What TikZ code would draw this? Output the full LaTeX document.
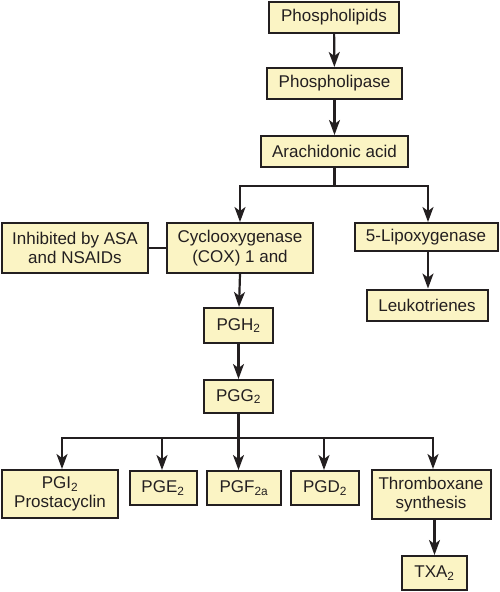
\documentclass[tikz,border=0pt]{standalone}
\usepackage{fontspec}
\setmainfont{Liberation Sans}
\usetikzlibrary{arrows.meta}
\definecolor{boxfill}{HTML}{FBF4C4}
\definecolor{ink}{HTML}{231F20}
\begin{document}
\begin{tikzpicture}[x=1pt,y=-1pt,
  box/.style={draw=ink,line width=2pt,fill=boxfill,inner sep=0pt,
    font=\fontsize{17}{19.5}\selectfont,align=center,text=ink},
  arr/.style={draw=ink,line width=2.2pt,-{Stealth[length=15pt,width=11pt,inset=4pt]}},
  ln/.style={draw=ink,line width=2.2pt}]
\useasboundingbox (0,0) rectangle (500,592);
\node[box,minimum width=130,minimum height=31] (phl) at (334,17.5) {Phospholipids};
\node[box,minimum width=135,minimum height=31] (pla) at (334.5,83.5) {Phospholipase};
\node[box,minimum width=147,minimum height=31] (ara) at (334.5,151.5) {Arachidonic acid};
\node[box,minimum width=146,minimum height=50] (inh) at (75,248) {Inhibited by ASA\\and NSAIDs};
\node[box,minimum width=146,minimum height=50] (cox) at (240,248) {Cyclooxygenase\\(COX) 1 and};
\node[box,minimum width=143,minimum height=28] (lox) at (426,237) {5-Lipoxygenase};
\node[box,minimum width=121,minimum height=31] (leu) at (427,305) {Leukotrienes};
\node[box,minimum width=69,minimum height=35] (pgh) at (238.5,325.5) {PGH\textsubscript{2}};
\node[box,minimum width=69,minimum height=33] (pgg) at (238.5,396.5) {PGG\textsubscript{2}};
\node[box,minimum width=116,minimum height=48] (pgi) at (60,494) {PGI\textsubscript{2}\\Prostacyclin};
\node[box,minimum width=67,minimum height=34] (pge) at (163,488) {PGE\textsubscript{2}};
\node[box,minimum width=74,minimum height=34] (pgf) at (244,488) {PGF\textsubscript{2a}};
\node[box,minimum width=68,minimum height=34] (pgd) at (325,488) {PGD\textsubscript{2}};
\node[box,minimum width=119,minimum height=49] (thx) at (431,494.5) {Thromboxane\\synthesis};
\node[box,minimum width=65,minimum height=34] (txa) at (434.5,573) {TXA\textsubscript{2}};
\draw[arr] (phl) -- (pla);
\draw[arr] (pla) -- (ara);
\coordinate (b1) at (334.5,186);
\draw[ln] (ara.south) -- (b1);
\draw[arr] (b1) -| (cox.north);
\draw[arr] (b1) -| ([xshift=2pt]lox.north);
\draw[arr] ([xshift=2pt]lox.south) -- ([xshift=1pt]leu.north);
\draw[ln] (inh) -- (cox);
\draw[arr] (cox.south) -- ([xshift=0.5pt]pgh.north);
\draw[arr] (pgh) -- (pgg);
\coordinate (b2) at (238.5,438);
\draw[ln] (pgg.south) -- (b2);
\draw[arr] (b2) -| ([xshift=2pt]pgi.north);
\draw[arr] (b2) -| ([xshift=-1pt]pge.north);
\draw[arr] (b2) -- ([xshift=-5.5pt]pgf.north);
\draw[arr] (b2) -| ([xshift=-1pt]pgd.north);
\draw[arr] (b2) -| ([xshift=2pt]thx.north);
\draw[arr] ([xshift=3.5pt]thx.south) -- (txa.north);
\end{tikzpicture}
\end{document}
